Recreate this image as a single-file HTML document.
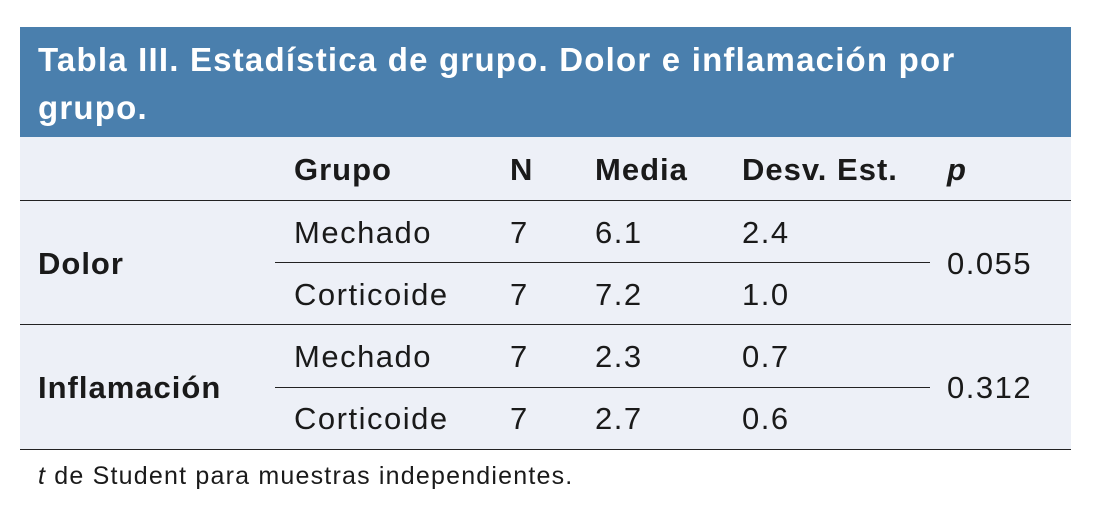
<!DOCTYPE html>
<html><head><meta charset="utf-8"><style>
body{margin:0;width:1107px;height:521px;background:#fff;position:relative;font-family:"Liberation Sans",sans-serif;color:#1a1a1a;overflow:hidden}
.hd{position:absolute;left:20px;top:27px;width:1051px;height:110px;background:#4a7fad;color:#fff;font-weight:bold;font-size:33px;line-height:48px;box-sizing:border-box;padding:9px 0 0 18px;letter-spacing:1.2px}
.bd{position:absolute;left:20px;top:137px;width:1051px;height:312px;background:#edf0f7}
.t{position:absolute;font-size:31px;line-height:1;white-space:nowrap;letter-spacing:1.5px}
.b{font-weight:bold;letter-spacing:1px}
.l{position:absolute;height:1px;background:#222}
</style></head><body>
<div class="hd">Tabla III. Estadística de grupo. Dolor e inflamación por<br>grupo.</div>
<div class="bd"></div>
<div class="t b" style="left:294px;top:154px">Grupo</div>
<div class="t b" style="left:510px;top:154px">N</div>
<div class="t b" style="left:595px;top:154px">Media</div>
<div class="t b" style="left:742px;top:154px">Desv. Est.</div>
<div class="t b" style="left:947px;top:154px;font-style:italic">p</div>
<div class="l" style="left:20px;top:200px;width:1051px"></div>
<div class="t" style="left:294px;top:217px">Mechado</div><div class="t" style="left:510px;top:217px">7</div><div class="t" style="left:595px;top:217px">6.1</div><div class="t" style="left:742px;top:217px">2.4</div>
<div class="l" style="left:275px;top:262px;width:655px"></div>
<div class="t" style="left:294px;top:279px">Corticoide</div><div class="t" style="left:510px;top:279px">7</div><div class="t" style="left:595px;top:279px">7.2</div><div class="t" style="left:742px;top:279px">1.0</div>
<div class="t b" style="left:38px;top:248px">Dolor</div>
<div class="t" style="left:947px;top:248px">0.055</div>
<div class="l" style="left:20px;top:324px;width:1051px"></div>
<div class="t" style="left:294px;top:341px">Mechado</div><div class="t" style="left:510px;top:341px">7</div><div class="t" style="left:595px;top:341px">2.3</div><div class="t" style="left:742px;top:341px">0.7</div>
<div class="l" style="left:275px;top:387px;width:655px"></div>
<div class="t" style="left:294px;top:403px">Corticoide</div><div class="t" style="left:510px;top:403px">7</div><div class="t" style="left:595px;top:403px">2.7</div><div class="t" style="left:742px;top:403px">0.6</div>
<div class="t b" style="left:38px;top:372px">Inflamación</div>
<div class="t" style="left:947px;top:372px">0.312</div>
<div class="l" style="left:20px;top:449px;width:1051px"></div>
<div class="t" style="left:38px;top:464px;font-size:25px;letter-spacing:1.2px"><i>t</i> de Student para muestras independientes.</div>
</body></html>
